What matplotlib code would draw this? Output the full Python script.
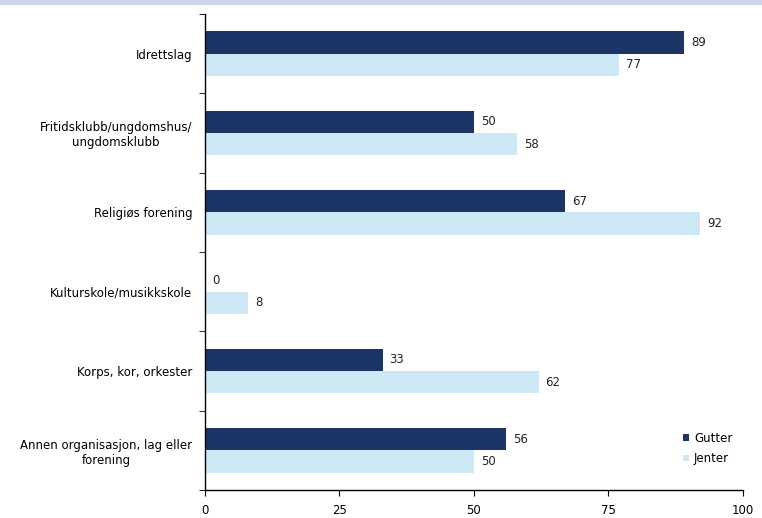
import matplotlib
matplotlib.use("Agg")
import matplotlib.pyplot as plt
import numpy as np

plt.rcParams.update({
    "font.family": ["DejaVu Sans"],
    "font.size": 8.5,
    "axes.linewidth": 1.0,
})

categories = ["Idrettslag", "Fritidsklubb/ungdomshus/\nungdomsklubb", "Religiøs forening",
              "Kulturskole/musikkskole", "Korps, kor, orkester",
              "Annen organisasjon, lag eller\nforening"]
gutter = [89, 50, 67, 0, 33, 56]
jenter = [77, 58, 92, 8, 62, 50]
xticks = [0, 25, 50, 75, 100]

DARK = "#1c3566"
LIGHT = "#cfe8f6"
INK = "#222222"

fig = plt.figure(figsize=(7.62, 5.18), dpi=100)
ax = fig.add_axes([0.269, 0.054, 0.706, 0.919])

y = np.arange(len(categories))
h = 0.28
ax.barh(y - h / 2, gutter, h, color=DARK, label="Gutter")
ax.barh(y + h / 2, jenter, h, color=LIGHT, label="Jenter")

for i, (g, j) in enumerate(zip(gutter, jenter)):
    ax.text(g + 1.3, i - h / 2, f"{g}", va="center", ha="left", fontsize=8.5, color=INK)
    ax.text(j + 1.3, i + h / 2, f"{j}", va="center", ha="left", fontsize=8.5, color=INK)

ax.set_xlim(0, 100)
ax.set_ylim(len(categories) - 0.5, -0.5)
ax.set_xticks(xticks)
ax.set_xticklabels([str(t) for t in xticks])

# category labels right-aligned, ticks at boundaries
ax.set_yticks(y)
ax.set_yticklabels(categories, fontsize=8.5, multialignment="center")
ax.tick_params(axis="y", length=0, pad=9)
ax.set_yticks(np.arange(-0.5, len(categories)), minor=True)
ax.tick_params(axis="y", which="minor", length=4, direction="out")
ax.tick_params(axis="x", length=4, direction="out", pad=6)

ax.spines["top"].set_visible(False)
ax.spines["right"].set_visible(False)

ax.legend(loc="lower right", bbox_to_anchor=(1.0, 0.03), frameon=False, fontsize=8.5,
          handlelength=0.5, handleheight=0.5, handletextpad=0.4, labelspacing=0.6)

fig.patches.append(plt.Rectangle((0, 0.993), 1, 0.007, transform=fig.transFigure,
                                 color="#c9d6ea", zorder=0))

fig.savefig("out.png", dpi=100, facecolor="white")
